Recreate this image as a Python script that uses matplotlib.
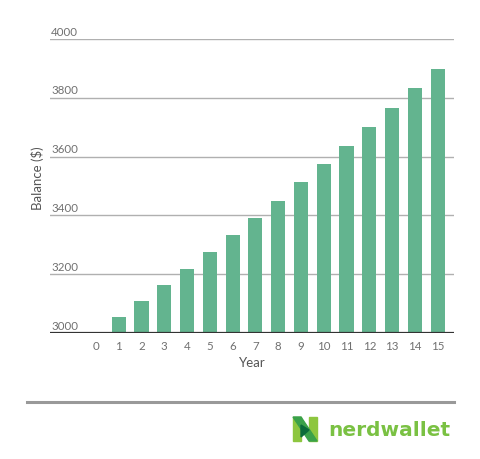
import matplotlib
matplotlib.use("Agg")
import matplotlib.pyplot as plt
from matplotlib.patches import Polygon
from matplotlib.lines import Line2D
import matplotlib.transforms as mtransforms

years = list(range(0, 16))
balance = [None, 3055, 3109, 3162, 3219, 3276, 3334, 3390, 3450, 3512,
           3575, 3636, 3700, 3764, 3833, 3898]
y_ticks = [3000, 3200, 3400, 3600, 3800, 4000]
x_tick_labels = [str(y) for y in years]

plt.rcParams['font.family'] = ['Lato', 'DejaVu Sans']

fig = plt.figure(figsize=(4.8, 4.6), dpi=100)
ax = fig.add_axes([0.104, 0.274, 0.842, 0.639])

bx = [x for x, v in zip(years, balance) if v is not None]
bv = [v for v in balance if v is not None]
ax.bar(bx, [v - 3000 for v in bv], bottom=3000, width=0.62, color='#63b48f', zorder=3)

ax.set_ylim(3000, 4000)
ax.set_xlim(-2.02, 15.72)

for s in ax.spines.values():
    s.set_visible(False)

trans = mtransforms.blended_transform_factory(ax.transAxes, ax.transData)
for t in y_ticks:
    if t == 3000:
        ax.axhline(t, color='#333333', lw=1.6, zorder=4)
    else:
        ax.axhline(t, color='#b0b0b0', lw=1.0, zorder=1)
    ax.text(0.003, t + 8, str(t), transform=trans, ha='left', va='bottom',
            fontsize=8.3, color='#707070')

ax.set_yticks([])
ax.set_xticks(years)
ax.set_xticklabels(x_tick_labels, fontsize=8.3, color='#707070')
ax.tick_params(axis='x', length=0, pad=5)
ax.set_xlabel('Year', fontsize=9.5, color='#555555', labelpad=4)
fig.text(0.078, 0.613, 'Balance ($)', rotation=90, ha='center', va='center',
         fontsize=9.5, color='#555555')

# bottom separator line
fig.add_artist(Line2D([27/480, 454/480], [1 - 403/460, 1 - 403/460],
                      color='#999999', lw=2.2))

# logo icon (N)
def fp(x, y):
    return (x / 480, 1 - y / 460)

fig.add_artist(Polygon([fp(293, 418), fp(301, 418), fp(301, 442), fp(293, 442)],
                       closed=True, color='#8dc63f', transform=fig.transFigure))
fig.add_artist(Polygon([fp(309, 418), fp(317, 418), fp(317, 442), fp(309, 442)],
                       closed=True, color='#8dc63f', transform=fig.transFigure))
fig.add_artist(Polygon([fp(293, 418), fp(301, 418), fp(317, 442), fp(309, 442)],
                       closed=True, color='#3aa14a', transform=fig.transFigure))
fig.add_artist(Polygon([fp(301, 426), fp(309, 431), fp(301, 438)],
                       closed=True, color='#0b6b3a', transform=fig.transFigure))

fig.text(328 / 480, 1 - 431 / 460, 'nerdwallet', ha='left', va='center',
         fontsize=14.5, fontweight='bold', color='#7ac143',
         family=['DejaVu Sans'])

fig.savefig('out.png', dpi=100, facecolor='white')
